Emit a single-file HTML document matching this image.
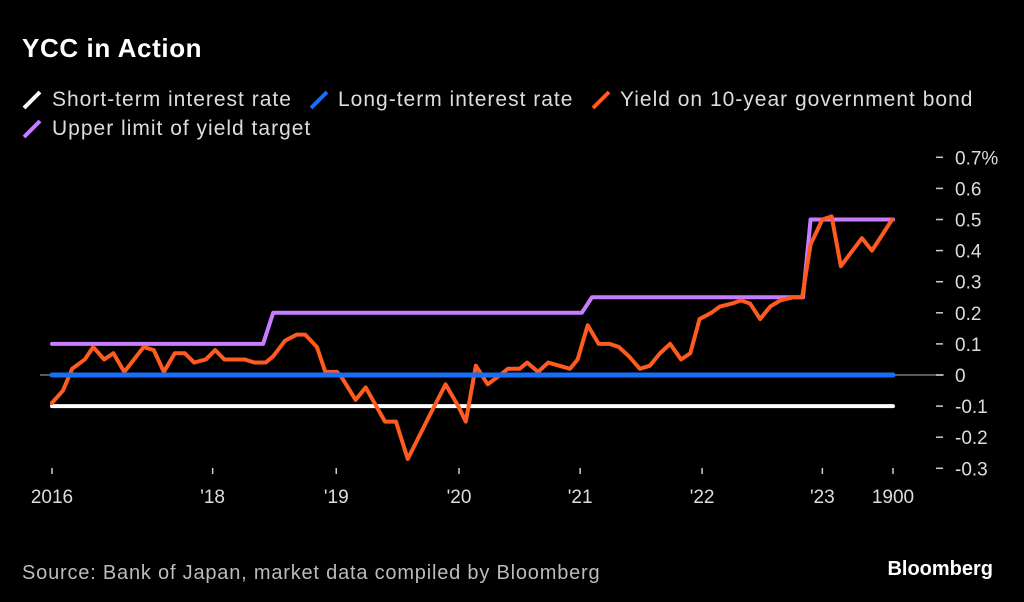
<!DOCTYPE html>
<html><head><meta charset="utf-8"><style>
body{margin:0;background:#000;width:1024px;height:602px;overflow:hidden;font-family:"Liberation Sans",sans-serif;color:#fff}
svg{position:absolute;left:0;top:0}
</style></head><body>
<svg width="1024" height="602">
<text x="22" y="57" font-size="26" font-weight="bold" letter-spacing="0.6" fill="#fff">YCC in Action</text>
<g font-size="21" letter-spacing="1" fill="#ddd">
 <g><line x1="24" y1="108" x2="40" y2="92" stroke="#fff" stroke-width="4"/><text x="52" y="106">Short-term interest rate</text></g>
 <g><line x1="311" y1="108" x2="327" y2="92" stroke="#1a6ef5" stroke-width="4"/><text x="338" y="106">Long-term interest rate</text></g>
 <g><line x1="593" y1="108" x2="609" y2="92" stroke="#ff5a1f" stroke-width="4"/><text x="620" y="106">Yield on 10-year government bond</text></g>
 <g><line x1="24" y1="137" x2="40" y2="121" stroke="#c77dff" stroke-width="4"/><text x="52" y="135">Upper limit of yield target</text></g>
</g>
<g id="axes"></g>
<g id="plot"></g>
<text x="22" y="579" font-size="20" letter-spacing="0.8" fill="#bbb">Source: Bank of Japan, market data compiled by Bloomberg</text>
<text x="993" y="575" font-size="20" font-weight="bold" fill="#fff" text-anchor="end">Bloomberg</text>
</svg>
<script>
const yTicks=[0.7,0.6,0.5,0.4,0.3,0.2,0.1,0,-0.1,-0.2,-0.3];
const yTickLabels=["0.7%","0.6","0.5","0.4","0.3","0.2","0.1","0","-0.1","-0.2","-0.3"];
const xTicks=[0,19.1,33.8,48.4,62.8,77.3,91.6,100];
const xTickLabels=["2016","'18","'19","'20","'21","'22","'23","1900"];
const yieldT=[0,1.3,2.4,3.9,4.9,6.2,7.3,8.6,10.9,12.1,13.3,14.6,15.8,16.9,18.3,19.4,20.5,21.8,22.9,24.1,25.4,26.3,27.7,29.1,30.1,31.5,32.5,33.9,34.5,36.1,37.3,39.6,40.9,42.3,44.9,46.8,48.3,49.2,50.4,51.8,53.3,54.2,55.6,56.5,57.8,59,61.6,62.5,63.7,65,66.3,67.4,68.6,69.9,71.1,72.3,73.5,74.8,75.9,77,78.4,79.4,80.9,81.9,83,84.2,85.4,86.6,88.1,89.2,90.2,91.6,92.7,93.8,96.3,97.5,99.9];
const yieldV=[-0.09,-0.05,0.02,0.05,0.09,0.05,0.07,0.01,0.09,0.08,0.01,0.07,0.07,0.04,0.05,0.08,0.05,0.05,0.05,0.04,0.04,0.06,0.11,0.13,0.13,0.09,0.01,0.01,-0.01,-0.08,-0.04,-0.15,-0.15,-0.27,-0.13,-0.03,-0.1,-0.15,0.03,-0.03,0,0.02,0.02,0.04,0.01,0.04,0.02,0.05,0.16,0.1,0.1,0.09,0.06,0.02,0.03,0.07,0.1,0.05,0.07,0.18,0.2,0.22,0.23,0.24,0.23,0.18,0.22,0.24,0.25,0.25,0.42,0.5,0.51,0.35,0.44,0.4,0.5];
const upperT=[0,25.1,26.3,63,64.2,89.3,90.2,100];
const upperV=[0.1,0.1,0.2,0.2,0.25,0.25,0.5,0.5];
const shortT=[0,100], shortV=[-0.1,-0.1];
const longT=[0,100], longV=[0,0];
const NS="http://www.w3.org/2000/svg";
const xS=t=>52+t*(893-52)/100;
const yS=v=>375-v*311;
const axes=document.getElementById('axes'), plot=document.getElementById('plot');
function mk(tag,attrs,parent){const e=document.createElementNS(NS,tag);for(const k in attrs)e.setAttribute(k,attrs[k]);parent.appendChild(e);return e;}
const zl=mk('line',{x1:40,x2:944,y1:yS(0),y2:yS(0),stroke:'#777','stroke-width':1.5},axes);


yTicks.forEach((v,i)=>{
 const d=mk('line',{x1:936,x2:943,y1:yS(v),y2:yS(v),stroke:'#ccc','stroke-width':1.5},axes);
 
 
 const t=mk('text',{x:955,y:yS(v)+7,'font-size':19,fill:'#ddd'},axes);
 t.textContent=yTickLabels[i];
 
 
});
xTicks.forEach((v,i)=>{
 const d=mk('line',{x1:xS(v),x2:xS(v),y1:468,y2:474,stroke:'#ccc','stroke-width':1.5},axes);
 
 
 const t=mk('text',{x:xS(v),y:503,'font-size':19,fill:'#ddd','text-anchor':'middle'},axes);
 t.textContent=xTickLabels[i];
 
 
});
function line(T,V,color,w,name){
 const p=mk('polyline',{points:T.map((t,i)=>xS(t)+','+yS(V[i])).join(' '),fill:'none',stroke:color,'stroke-width':w,'stroke-linejoin':'round','stroke-linecap':'round'},plot);
 
 
}
line(shortT,shortV,'#fff',4,'short-term-rate-line');
line(upperT,upperV,'#c77dff',4,'upper-limit-line');
line(yieldT,yieldV,'#ff5a1f',4,'ten-year-yield-line');
line(longT,longV,'#1a6ef5',5,'long-term-rate-line');
</script>
</body></html>
